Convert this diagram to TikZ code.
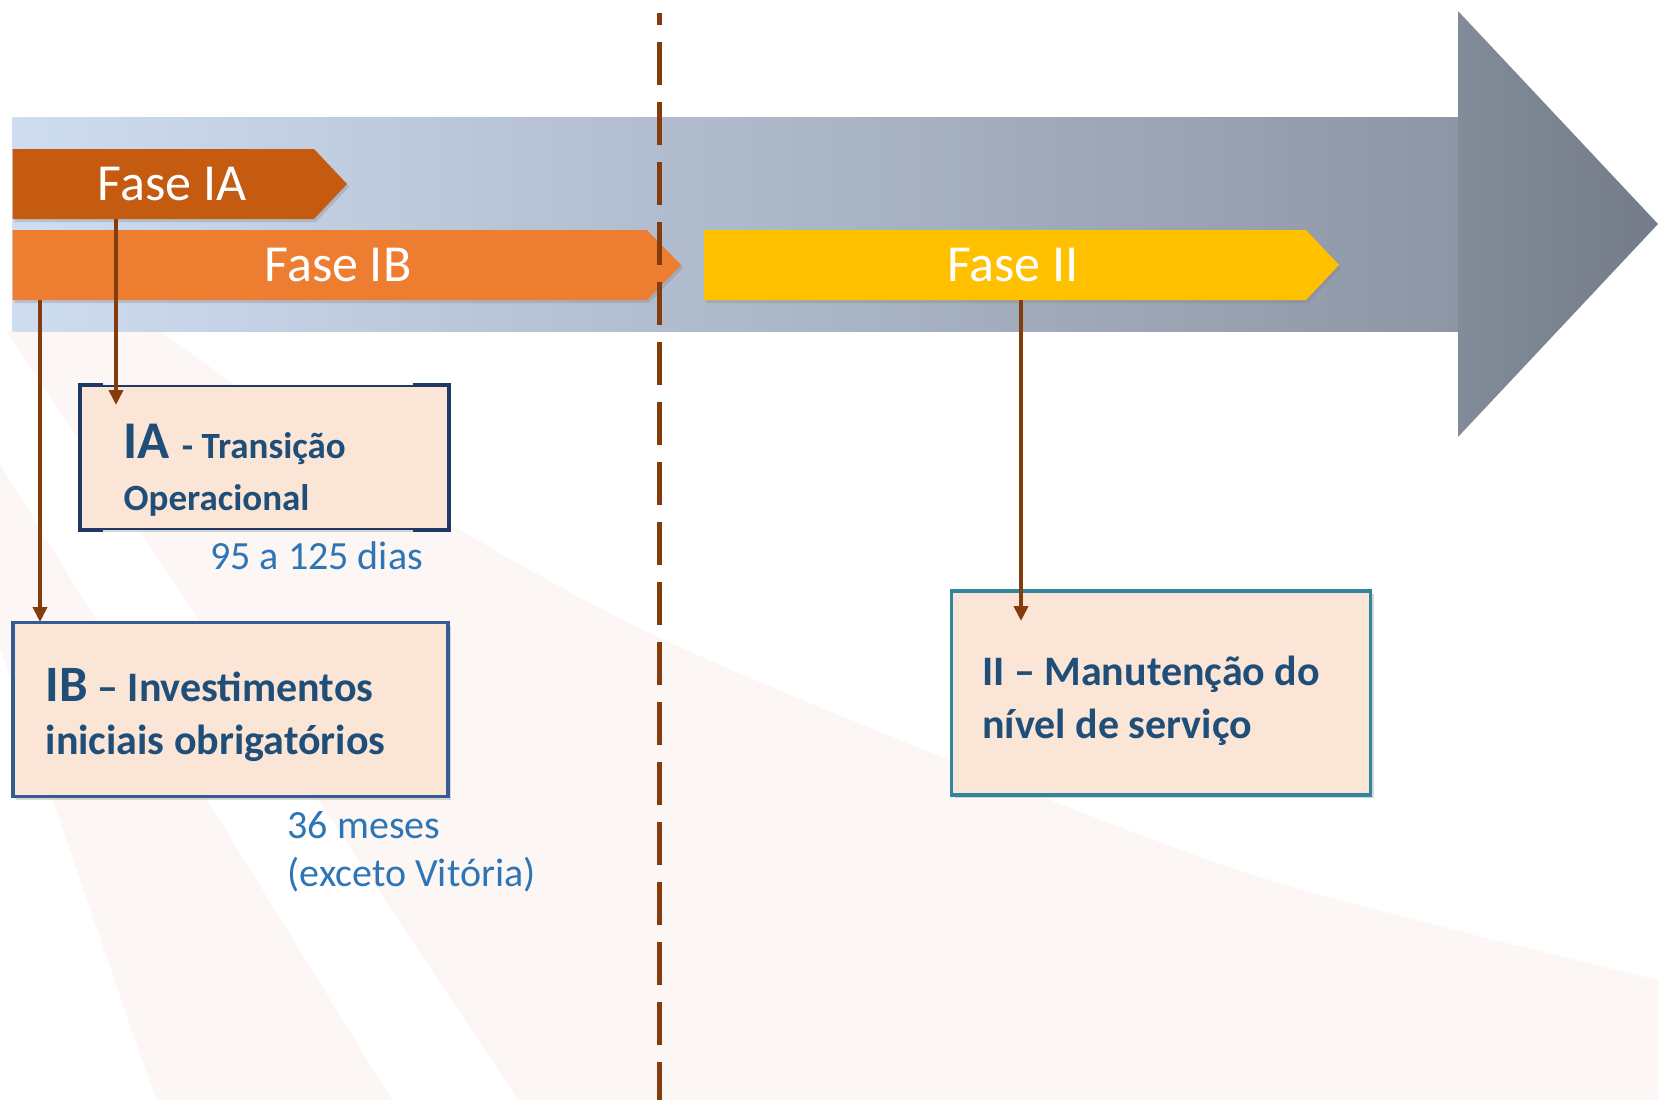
\documentclass[tikz,border=0pt]{standalone}
\usepackage{fontspec}
\setmainfont{Carlito}
\usepackage{tikz}
\usetikzlibrary{arrows.meta,shadows}

\definecolor{faseIAcol}{HTML}{C55A11}
\definecolor{faseIBcol}{HTML}{ED7D31}
\definecolor{faseIIcol}{HTML}{FFC000}
\definecolor{bandL}{HTML}{CFDDF1}
\definecolor{bandR}{HTML}{8D96A4}
\definecolor{headL}{HTML}{828B99}
\definecolor{headR}{HTML}{747B89}
\definecolor{boxfill}{HTML}{FBE5D6}
\definecolor{ialine}{HTML}{203864}
\definecolor{ibline}{HTML}{335C96}
\definecolor{iiline}{HTML}{31859C}
\definecolor{boxtext}{HTML}{1F4E79}
\definecolor{prazotext}{HTML}{2E75B6}
\definecolor{linkcol}{HTML}{843C0C}
\definecolor{bgpink}{RGB}{252,247,245}

\tikzset{
  fase/.style={text=white,font=\fontsize{52}{60}\selectfont,minimum height=70pt,inner sep=0pt},
  chev/.style={drop shadow={shadow xshift=2pt,shadow yshift=-3pt,opacity=0.3}},
  etapa/.style={fill=boxfill,line width=3.5pt,drop shadow={shadow xshift=3pt,shadow yshift=-3pt,opacity=0.3}},
  etapatxt/.style={text=boxtext,font=\fontsize{42}{53}\selectfont\bfseries,align=left,anchor=north west,inner sep=0pt},
  prazo/.style={text=prazotext,font=\fontsize{40}{48}\selectfont,align=left,inner sep=0pt},
  link/.style={linkcol,line width=3.8pt,-{Triangle[length=15pt,width=14pt]}}
}

\begin{document}
\begin{tikzpicture}[x=1pt,y=-1pt]
\useasboundingbox (0,0) rectangle (1658,1100);
\fill[white] (0,0) rectangle (1658,1100);
\fill[bgpink] (0,464) -- (0,647) -- (156,1100) -- (392,1100) -- cycle;
\fill[bgpink] (6,331) -- (160,331) -- plot[smooth] coordinates {(160,331) (236,385) (450,524) (660,638) (952,761) (1269,880) (1658,980)} -- (1658,1100) -- (518,1100) -- cycle;

\shade[left color=bandL,right color=bandR] (12.7,117) rectangle (1458,331);
\shade[left color=headL,right color=headR] (1458,11) -- (1658,224) -- (1458,437) -- cycle;

\fill[faseIAcol,chev] (12.7,149) -- (314,149) -- (347,184) -- (314,219) -- (12.7,219) -- cycle;
\fill[faseIBcol,chev] (12.7,230) -- (647,230) -- (681,265) -- (647,300) -- (12.7,300) -- cycle;
\fill[faseIIcol,chev] (704,230) -- (1306,230) -- (1339,265) -- (1306,300) -- (704,300) -- cycle;
\node[fase] (faseIA) at (172,184) {Fase IA};
\node[fase] (faseIB) at (338,265) {Fase IB};
\node[fase] (faseII) at (1013,265) {Fase II};

\draw[linkcol,line width=5pt,dash pattern=on 43pt off 17pt,dash phase=30.7pt] (659,13) -- (659,1100);

\node[etapa,draw=ialine,line width=2pt,minimum width=367pt,minimum height=143pt] (iaBox) at (264.4,457.5) {};
\draw[ialine,line width=4pt] ([xshift=23pt]iaBox.north west) -- (iaBox.north west) -- (iaBox.south west) -- ([xshift=23pt]iaBox.south west);
\draw[ialine,line width=4pt] ([xshift=-36pt]iaBox.north east) -- (iaBox.north east) -- (iaBox.south east) -- ([xshift=-36pt]iaBox.south east);
\node[etapa,draw=ibline,minimum width=435pt,minimum height=174pt] (ibBox) at (230.4,709.5) {};
\node[etapa,draw=iiline,minimum width=419pt,minimum height=204pt] (iiBox) at (1161,693) {};

\node[etapatxt,font=\fontsize{37}{52}\selectfont\bfseries] (iaText) at (123.5,423.5) {{\fontsize{53}{53}\selectfont IA\ }- Transição\\Operacional};
\node[etapatxt] (ibText) at (45.5,668) {{\fontsize{51}{53}\selectfont IB} – Investimentos\\iniciais obrigatórios};
\node[etapatxt] (iiText) at (982,656) {II – Manutenção do\\nível de serviço};

\node[prazo,anchor=base west] (iaPrazo) at (210,569) {95 a 125 dias};
\node[prazo,anchor=north west] (ibPrazo) at (287.5,811.5) {36 meses\\(exceto Vitória)};

\coordinate (iaIn) at (116,405);
\coordinate (ibIn) at (40,622);
\coordinate (iiIn) at (1021,621);
\draw[link] (faseIA.south -| iaIn) -- (iaIn);
\draw[link] (faseIB.south -| ibIn) -- (ibIn);
\draw[link] (faseII.south -| iiIn) -- (iiIn);
\end{tikzpicture}
\end{document}
